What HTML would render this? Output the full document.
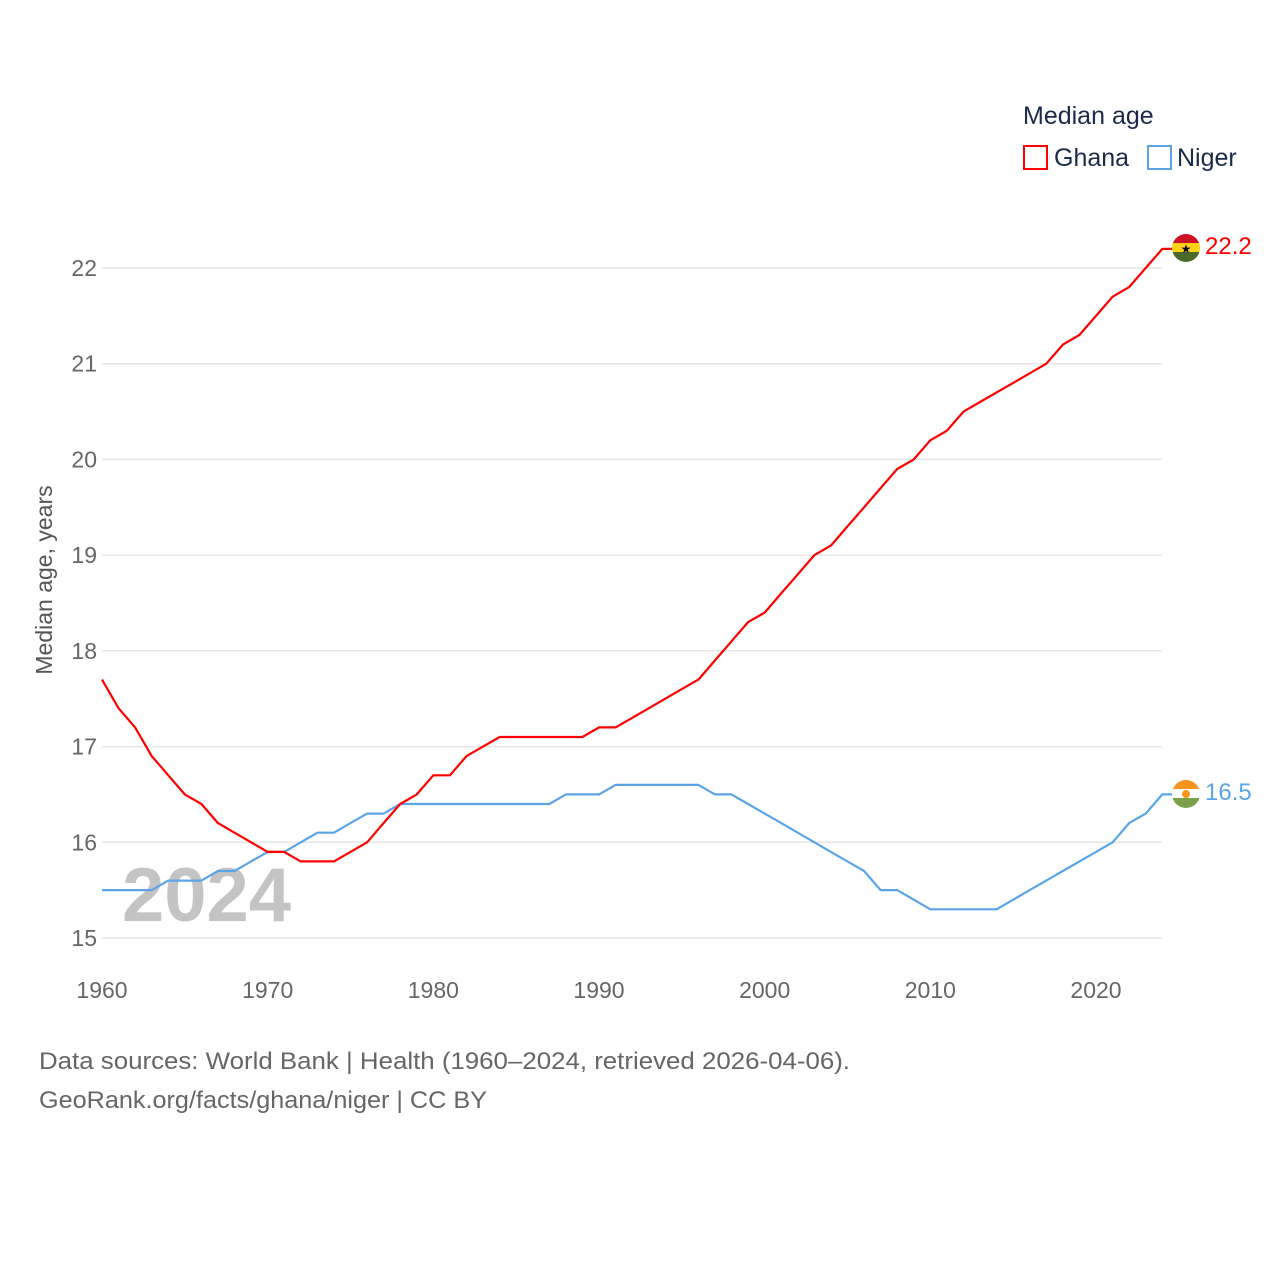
<!DOCTYPE html>
<html><head><meta charset="utf-8"><style>
body{margin:0;background:#fff;font-family:"Liberation Sans",sans-serif}
svg text{font-family:"Liberation Sans",sans-serif}
</style></head><body>
<svg id="chart" width="1280" height="1280" xmlns="http://www.w3.org/2000/svg">
<text x="1023" y="124" font-size="25" fill="#1a2a4a">Median age</text>
<g><rect x="1024" y="146" width="23" height="23" fill="none" stroke="#f00" stroke-width="2"/><text x="1054" y="166" font-size="25" fill="#1a2a4a">Ghana</text></g>
<g><rect x="1148" y="146" width="23" height="23" fill="none" stroke="#5ba4e8" stroke-width="2"/><text x="1177" y="166" font-size="25" fill="#1a2a4a">Niger</text></g>
<g id="grid"></g><g id="yt"></g><g id="xt"></g>
<text x="122" y="921" font-size="76" font-weight="bold" fill="#c4c4c4">2024</text>
<text transform="translate(52,580) rotate(-90)" text-anchor="middle" font-size="23" fill="#555">Median age, years</text>
<g id="lines"></g>
<g><clipPath id="cg"><circle cx="1186" cy="248" r="14"/></clipPath><g clip-path="url(#cg)"><rect x="1172" y="234" width="28" height="10" fill="#ce1126"/><rect x="1172" y="243" width="28" height="10" fill="#fcd116"/><rect x="1172" y="252" width="28" height="10" fill="#4a6a2a"/></g><text x="1186" y="253" font-size="12" text-anchor="middle">★</text></g>
<g><clipPath id="cn"><circle cx="1186" cy="794" r="14"/></clipPath><g clip-path="url(#cn)"><rect x="1172" y="780" width="28" height="10" fill="#f7931e"/><rect x="1172" y="789" width="28" height="10" fill="#fff"/><rect x="1172" y="798" width="28" height="10" fill="#7aa04a"/></g><circle cx="1186" cy="794" r="4" fill="#f7931e"/></g>
<text x="1205" y="254" font-size="24" fill="#f00">22.2</text>
<text x="1205" y="800" font-size="24" fill="#5ba4e8">16.5</text>
<text x="39" y="1069" font-size="24" fill="#666" textLength="811" lengthAdjust="spacingAndGlyphs">Data sources: World Bank | Health (1960–2024, retrieved 2026-04-06).</text>
<text x="39" y="1108" font-size="24" fill="#666" textLength="448" lengthAdjust="spacingAndGlyphs">GeoRank.org/facts/ghana/niger | CC BY</text>
</svg>
<script>
const years=[];for(let y=1960;y<=2024;y++)years.push(y);
const ghana=[17.7,17.4,17.2,16.9,16.7,16.5,16.4,16.2,16.1,16.0,15.9,15.9,15.8,15.8,15.8,15.9,16.0,16.2,16.4,16.5,16.7,16.7,16.9,17.0,17.1,17.1,17.1,17.1,17.1,17.1,17.2,17.2,17.3,17.4,17.5,17.6,17.7,17.9,18.1,18.3,18.4,18.6,18.8,19.0,19.1,19.3,19.5,19.7,19.9,20.0,20.2,20.3,20.5,20.6,20.7,20.8,20.9,21.0,21.2,21.3,21.5,21.7,21.8,22.0,22.2];
const niger=[15.5,15.5,15.5,15.5,15.6,15.6,15.6,15.7,15.7,15.8,15.9,15.9,16.0,16.1,16.1,16.2,16.3,16.3,16.4,16.4,16.4,16.4,16.4,16.4,16.4,16.4,16.4,16.4,16.5,16.5,16.5,16.6,16.6,16.6,16.6,16.6,16.6,16.5,16.5,16.4,16.3,16.2,16.1,16.0,15.9,15.8,15.7,15.5,15.5,15.4,15.3,15.3,15.3,15.3,15.3,15.4,15.5,15.6,15.7,15.8,15.9,16.0,16.2,16.3,16.5];
const yTicks=[15,16,17,18,19,20,21,22];
const xTicks=[1960,1970,1980,1990,2000,2010,2020];
const X=y=>102+(y-1960)*994/60, Y=v=>938-(v-15)*670/7;
const NS="http://www.w3.org/2000/svg";
function mk(t,a,p){const e=document.createElementNS(NS,t);for(const k in a)e.setAttribute(k,a[k]);p.appendChild(e);return e;}
const g=document.getElementById('grid'),yt=document.getElementById('yt'),xt=document.getElementById('xt'),L=document.getElementById('lines');
yTicks.forEach(v=>{
 const l=mk('line',{x1:102,x2:1162,y1:Y(v),y2:Y(v),stroke:'#e6e6e6','stroke-width':1.5},g);
 
 
 const t=mk('text',{x:97,y:Y(v)+8,'text-anchor':'end','font-size':23,fill:'#666'},yt);t.textContent=v;
 
 
});
xTicks.forEach(v=>{
 const t=mk('text',{x:X(v),y:998,'text-anchor':'middle','font-size':23,fill:'#666'},xt);t.textContent=v;
 
 
});
function line(d,c,n){
 let p=d.map((v,i)=>(i?'L':'M')+X(years[i]).toFixed(1)+','+Y(v).toFixed(1)).join('');
 p+='L'+(X(years[years.length-1])+10)+','+Y(d[d.length-1]).toFixed(1);
 const e=mk('path',{d:p,fill:'none',stroke:c,'stroke-width':2.2,'stroke-linejoin':'round'},L);
 
 
}
line(niger,'#5ba4e8','niger-line');
line(ghana,'#f00','ghana-line');
</script>
</body></html>
